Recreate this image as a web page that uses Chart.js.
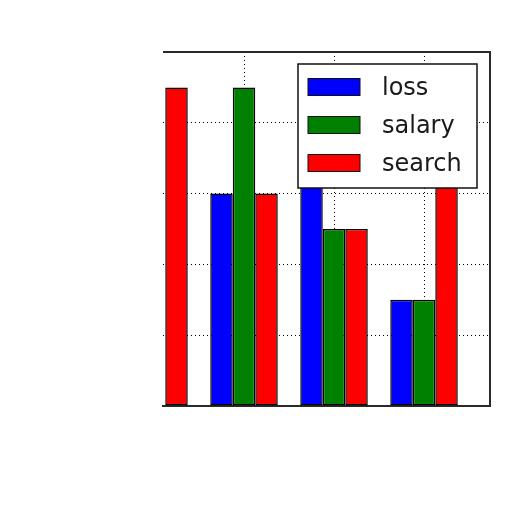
<!DOCTYPE html>
<html>
<head>
<meta charset="utf-8">
<script src="https://cdn.jsdelivr.net/npm/chart.js@4.4.1/dist/chart.umd.min.js"></script>
<style>
  html, body { margin: 0; padding: 0; background: #fff; }
  #wrap { width: 512px; height: 512px; }
</style>
</head>
<body>
<div id="wrap"><canvas id="chart" width="512" height="512"></canvas></div>
<script>
// --- chart data ---
const groups = [0, 1, 2, 3];
const seriesNames = ['loss', 'salary', 'search'];
const lossValues = [0, 3, 4, 1.5];
const salaryValues = [0, 4.5, 2.5, 1.5];
const searchValues = [4.5, 3, 2.5, 4];
const xGridTicks = [1, 2, 3];
const seriesColors = ['#0000ff', '#008000', '#ff0000'];

const toPoints = vals => groups.map((g, i) => ({ x: g, y: vals[i] }));

// frame on top/right plus a matplotlib-style legend inside the axes
const framePlugin = {
  id: 'frame',
  afterDraw(chart) {
    const { ctx, chartArea: a } = chart;
    ctx.save();
    ctx.strokeStyle = '#2a2a2a';
    ctx.lineWidth = 2;
    ctx.beginPath();
    ctx.moveTo(a.left, a.top);
    ctx.lineTo(a.right, a.top);
    ctx.lineTo(a.right, a.bottom);
    ctx.stroke();

    // legend box
    const box = { x: 298, y: 64, w: 179, h: 124 };
    ctx.fillStyle = '#fff';
    ctx.fillRect(box.x, box.y, box.w, box.h);
    ctx.lineWidth = 1.5;
    ctx.strokeStyle = '#111';
    ctx.strokeRect(box.x, box.y, box.w, box.h);

    ctx.font = '24px "DejaVu Sans"';
    ctx.textBaseline = 'middle';
    chart.data.datasets.forEach((ds, i) => {
      const cy = box.y + 23 + i * 38;
      ctx.fillStyle = ds.backgroundColor;
      ctx.fillRect(box.x + 10, cy - 8.5, 52, 17);
      ctx.lineWidth = 1;
      ctx.strokeStyle = '#111';
      ctx.strokeRect(box.x + 10, cy - 8.5, 52, 17);
      ctx.fillStyle = '#1a1a1a';
      ctx.fillText(ds.label, box.x + 84, cy + 1.5);
    });
    ctx.restore();
  }
};

const makeSet = (i, vals) => ({
  label: seriesNames[i],
  data: toPoints(vals),
  backgroundColor: seriesColors[i],
  borderColor: '#000',
  borderWidth: 1.5,
  borderSkipped: false,
  barPercentage: 1,
  categoryPercentage: 0.75
});

new Chart(document.getElementById('chart'), {
  type: 'bar',
  data: {
    datasets: [
      makeSet(0, lossValues),
      makeSet(1, salaryValues),
      makeSet(2, searchValues)
    ]
  },
  options: {
    responsive: false,
    animation: false,
    layout: { padding: { left: 163, right: 22, top: 52, bottom: 106 } },
    plugins: {
      legend: { display: false },
      tooltip: { enabled: false }
    },
    scales: {
      x: {
        type: 'linear',
        min: 0.1,
        max: 3.733,
        offset: false,
        afterBuildTicks: axis => { axis.ticks = xGridTicks.map(v => ({ value: v })); },
        ticks: { display: false },
        grid: { color: '#000', lineWidth: 1, drawTicks: false, offset: false },
        border: { display: true, color: '#2a2a2a', width: 2, dash: [1, 3] }
      },
      y: {
        min: 0,
        max: 5,
        ticks: { display: false, stepSize: 1 },
        grid: { color: '#000', lineWidth: 1, drawTicks: false },
        border: { display: false, dash: [1, 3] }
      }
    }
  },
  plugins: [framePlugin]
});
</script>
</body>
</html>
